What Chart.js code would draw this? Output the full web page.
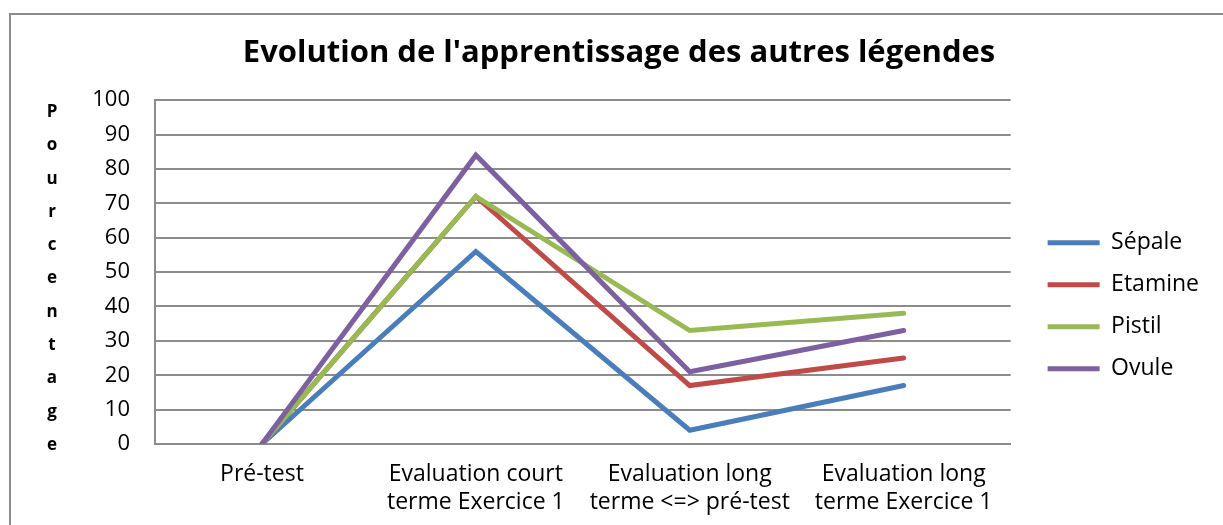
<!DOCTYPE html>
<html>
<head>
<meta charset="utf-8">
<script src="https://cdn.jsdelivr.net/npm/chart.js@4.4.0/dist/chart.umd.min.js"></script>
<style>
  body { margin: 0; background: #fff; }
  #wrap { position: relative; width: 1223px; height: 525px; overflow: hidden; }
  #frame { position: absolute; left: 9px; top: 13px; width: 1300px; height: 600px; border: 2px solid #8c8c8c; }
  #chart { position: absolute; left: 0; top: 0; }
</style>
</head>
<body>
<div id="wrap">
  <div id="frame"></div>
  <canvas id="chart" width="1223" height="525"></canvas>
</div>
<script>
const categories = ['Pré-test', ['Evaluation court', 'terme Exercice 1'], ['Evaluation long', 'terme <=> pré-test'], ['Evaluation long', 'terme Exercice 1']]
const sepale = [0, 56, 4, 17]
const etamine = [0, 72, 17, 25]
const pistil = [0, 72, 33, 38]
const ovule = [0, 84, 21, 33]
const yMin = 0
const yMax = 100
const yStep = 10
const chartTitle = "Evolution de l'apprentissage des autres légendes"
const yTitle = 'Pourcentage'

Chart.defaults.font.family = '"Open Sans", sans-serif'
Chart.defaults.color = '#000'

const gridGray = '#8c8c8c'

// stacked letters for the y axis title, one under the other
const stackedTitle = {
    id: 'stackedTitle',
    afterDraw(chart) {
        const {ctx, chartArea} = chart
        const step = (chartArea.bottom - chartArea.top) / 10.33
        ctx.save()
        ctx.font = 'bold 17px "Open Sans"'
        ctx.fillStyle = '#000'
        ctx.textAlign = 'center'
        ctx.textBaseline = 'middle'
        yTitle.split('').forEach((ch, i) => {
            ctx.fillText(ch, 52, chartArea.top + 12 + i * step)
        })
        ctx.restore()
    }
}

const line = (label, data, color, order) => ({
    label,
    data,
    borderColor: color,
    backgroundColor: color,
    borderWidth: 5,
    borderCapStyle: 'round',
    pointRadius: 0,
    tension: 0,
    order
})

new Chart('chart', {
    type: 'line',
    data: {
        labels: categories,
        datasets: [
            line('Sépale', sepale, '#4a7ebb', 3),
            line('Etamine', etamine, '#be4b48', 2),
            line('Pistil', pistil, '#98b954', 1),
            line('Ovule', ovule, '#7d60a0', 0)
        ]
    },
    options: {
        responsive: false,
        animation: false,
        layout: { padding: { top: 0, right: 14, bottom: 0, left: 29 } },
        scales: {
            x: {
                offset: true,
                grid: { display: false, drawTicks: false },
                border: { display: true, color: gridGray, width: 2 },
                ticks: { padding: 17, maxRotation: 0, autoSkip: false, font: { size: 23, lineHeight: 1.2 } },
                afterFit: s => { s.height = 81 }
            },
            y: {
                min: yMin,
                max: yMax,
                grid: { color: gridGray, lineWidth: 2, drawTicks: false },
                border: { display: true, color: gridGray, width: 2 },
                ticks: { stepSize: yStep, padding: 25, font: { size: 22 } },
                afterFit: s => { s.width = 126 }
            },
            gap: {
                type: 'linear',
                axis: 'y',
                position: 'right',
                grid: { display: false },
                border: { display: false },
                ticks: { display: false },
                afterFit: s => { s.width = 18 }
            }
        },
        plugins: {
            title: {
                display: true,
                text: chartTitle,
                font: { size: 31, weight: 'bold' },
                color: '#000',
                padding: { top: 35, bottom: 28 }
            },
            legend: {
                position: 'right',
                labels: {
                    usePointStyle: true,
                    pointStyle: 'line',
                    pointStyleWidth: 52,
                    padding: 19,
                    font: { size: 23 },
                    sort: (a, b) => a.datasetIndex - b.datasetIndex
                },
                title: { display: true, text: '', padding: { top: 72, bottom: 0 } }
            },
            tooltip: { enabled: false }
        }
    },
    plugins: [stackedTitle]
})
</script>
</body>
</html>
